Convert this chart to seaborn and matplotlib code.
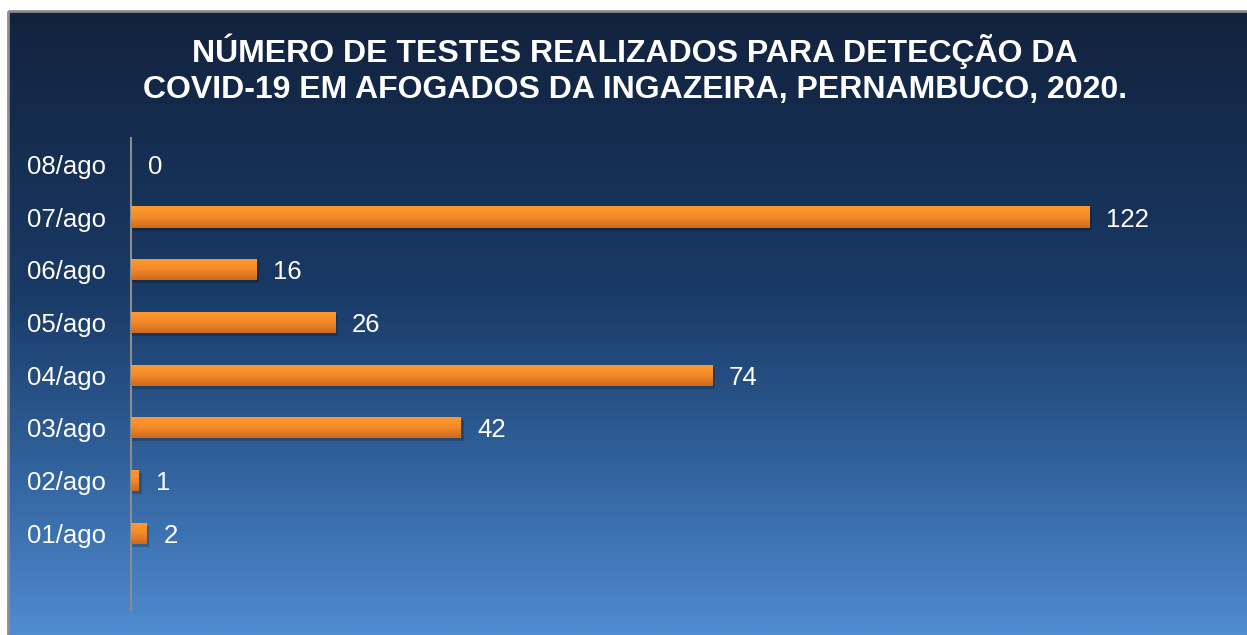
import numpy as np
import pandas as pd
import matplotlib
matplotlib.use("Agg")
import matplotlib.pyplot as plt
import seaborn as sns
from matplotlib.colors import LinearSegmentedColormap
from matplotlib.patches import Rectangle

categories = ["08/ago", "07/ago", "06/ago", "05/ago", "04/ago", "03/ago", "02/ago", "01/ago"]
values = [0, 122, 16, 26, 74, 42, 1, 2]
title = "NÚMERO DE TESTES REALIZADOS PARA DETECÇÃO DA\nCOVID-19 EM AFOGADOS DA INGAZEIRA, PERNAMBUCO, 2020."

df = pd.DataFrame({"dia": categories, "testes": values})

sns.set_theme(style="white")
plt.rcParams["font.family"] = ["Liberation Sans", "DejaVu Sans"]

W, H = 1247, 635
fig = plt.figure(figsize=(W / 100, H / 100), dpi=100)
fig.patch.set_facecolor("white")

# background panel with vertical gradient
bg = fig.add_axes([0, 0, 1, 1], zorder=0)
bg.set_axis_off()
bg.set_xlim(0, W)
bg.set_ylim(H, 0)
bg_cmap = LinearSegmentedColormap.from_list(
    "bg", [(0.0, "#12223d"), (0.45, "#193a66"), (0.75, "#3365a0"), (1.0, "#508bd1")]
)
grad = np.linspace(0, 1, 256).reshape(-1, 1)
x0p, y0p = 8, 11
bg.imshow(grad, cmap=bg_cmap, aspect="auto", extent=(x0p, W, H, y0p), zorder=0)
bg.add_patch(Rectangle((x0p, y0p), W - x0p + 5, H - y0p + 5, fill=False,
                       edgecolor="#8c8c8c", linewidth=2, zorder=1))

# main axes
left = 131 / W
bottom = 1 - 610 / H
top = 1 - 138 / H
ax = fig.add_axes([left, bottom, 1231 / W - left, top - bottom], zorder=2)
ax.patch.set_alpha(0)

sns.barplot(data=df, y="dia", x="testes", order=categories, orient="h",
            color="#f58b27", width=0.4, ax=ax, saturation=1, linewidth=0,
            edgecolor="none")

ax.set_xlim(0, 140)
ax.set_ylim(8.46, -0.5)

bar_cmap = LinearSegmentedColormap.from_list("bar", ["#ff9a30", "#f48a28", "#cf6a1d"])
bgrad = np.linspace(0, 1, 64).reshape(-1, 1)
for p, v in zip(ax.patches, values):
    x, y = p.get_x(), p.get_y()
    w, h = p.get_width(), p.get_height()
    if w > 0:
        # shadow
        sh = Rectangle((x, y + 0.06), w + 0.35, h, facecolor="black", alpha=0.2,
                       edgecolor="none", zorder=1)
        ax.add_patch(sh)
        im = ax.imshow(bgrad, cmap=bar_cmap, aspect="auto",
                       extent=(x, x + w, y + h, y), zorder=3)
        im.set_clip_path(p)
        p.set_zorder(2)
    else:
        p.set_visible(False)
    ax.annotate(f"{v}", xy=(w, y + h / 2), xytext=(12, 0), textcoords="offset points",
                va="center_baseline", ha="left", color="white", fontsize=18.5)

ax.set_xlim(0, 140)
ax.set_ylim(8.46, -0.5)
ax.set_xlabel("")
ax.set_ylabel("")
ax.set_xticks([])
ax.tick_params(axis="y", length=0, pad=18, labelsize=18.5, labelcolor="white")
for s in ["top", "right", "bottom"]:
    ax.spines[s].set_visible(False)
ax.spines["left"].set_color("#8c8c8c")
ax.spines["left"].set_linewidth(1.5)

fig.text(635 / W, 1 - 69 / H, title, ha="center", va="center", color="white",
         fontsize=23, fontweight="bold", linespacing=1.28)

fig.savefig("out.png", dpi=100)
